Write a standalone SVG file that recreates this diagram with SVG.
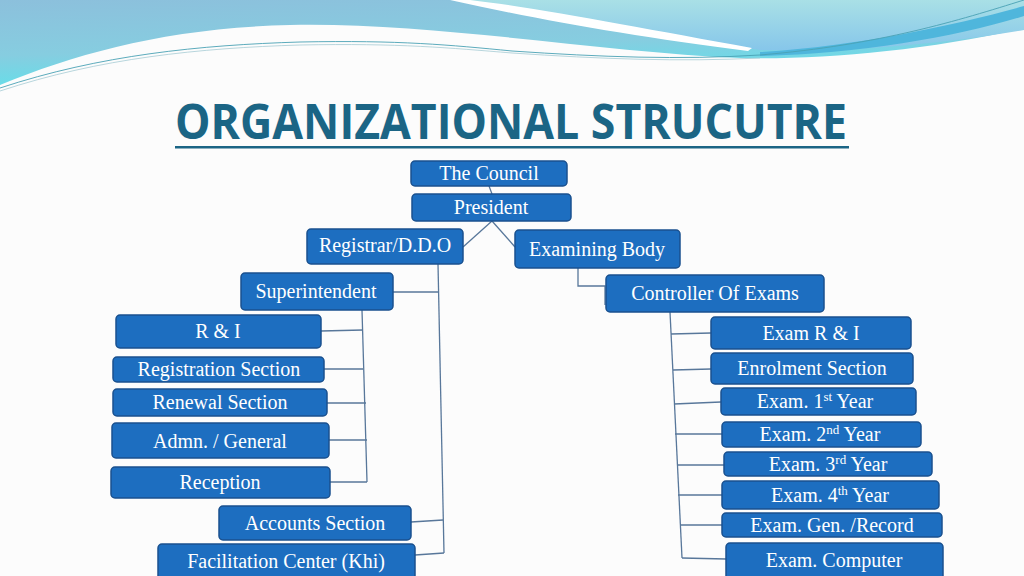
<svg xmlns="http://www.w3.org/2000/svg" width="1024" height="576" viewBox="0 0 1024 576">
<defs>
<linearGradient id="gBlue" x1="0" y1="0" x2="0.3" y2="1">
<stop offset="0" stop-color="#8cc0dc"/>
<stop offset="0.6" stop-color="#86cde0"/>
<stop offset="1" stop-color="#62e0ea"/>
</linearGradient>
<linearGradient id="gAqua" x1="0" y1="0" x2="0" y2="1">
<stop offset="0" stop-color="#a9e0e6"/>
<stop offset="1" stop-color="#86c6ea"/>
</linearGradient>
<style>
.box{fill:#1d6ec0;stroke:#1a508e;stroke-width:1.5}
.lbl{font-family:"Liberation Serif","Times New Roman",serif;font-size:20px;fill:#ffffff;text-anchor:middle}
.sup{font-size:13px}
.con{fill:none;stroke:#58779a;stroke-width:1.3}
</style>
</defs>
<rect x="0" y="0" width="1024" height="576" fill="#fcfcfc"/>
<g id="banner">
<path d="M0,0 H1024 V28 C930,50 820,60 740,58 C600,52 430,22 290,25 C170,28 80,52 0,85 Z" fill="url(#gBlue)"/>
<path d="M462,0 H1024 V30 C930,46 840,52 760,50 C690,40 600,22 520,8 C500,5 480,2 462,0 Z" fill="url(#gAqua)"/>
<path d="M450,0 L470,0 C540,8 640,28 752,48 L748,51 C630,36 540,20 450,0 Z" fill="#ffffff"/>
<path d="M760,52 C860,46 960,24 1024,6 V16 C960,36 860,54 760,56 Z" fill="#4fb6dc"/>
<path d="M0,88 C100,55 200,45 300,42 C400,40 450,45 512,51 C600,57 680,60 760,55 C880,45 960,20 1024,0" fill="none" stroke="#4aa2b4" stroke-width="0.9"/>
<path d="M0,91 C100,58 200,48 300,45 C400,43 450,48 512,53 C600,59 680,62 760,58" fill="none" stroke="#a6ccd4" stroke-width="0.8"/>
</g>
<g id="title">
<text x="511" y="139" font-family="Open Sans, Liberation Sans, sans-serif" font-weight="bold" font-size="48" fill="#1b6585" text-anchor="middle" textLength="672" lengthAdjust="spacingAndGlyphs">ORGANIZATIONAL STRUCUTRE</text>
<rect x="175" y="146" width="674" height="2.5" fill="#1b6585"/>
</g>
<g id="connectors">
<line class="con" x1="489" y1="186" x2="492" y2="194"/>
<line class="con" x1="492" y1="221" x2="463" y2="247"/>
<line class="con" x1="492" y1="221" x2="515" y2="247"/>
<polyline class="con" points="438,264 444,553"/>
<line class="con" x1="393" y1="292" x2="439" y2="292"/>
<line class="con" x1="411" y1="522" x2="443" y2="520"/>
<line class="con" x1="415" y1="555" x2="444" y2="553"/>
<polyline class="con" points="362,310 367,482"/>
<line class="con" x1="321" y1="331" x2="363" y2="330"/>
<line class="con" x1="324" y1="369" x2="363" y2="369"/>
<line class="con" x1="327" y1="403" x2="366" y2="403"/>
<line class="con" x1="329" y1="440" x2="367" y2="440"/>
<line class="con" x1="330" y1="482" x2="367" y2="482"/>
<polyline class="con" points="578,268 578,286 605,286 605,305"/>
<polyline class="con" points="670,312 682,558"/>
<line class="con" x1="671" y1="334" x2="711" y2="333"/>
<line class="con" x1="673" y1="370" x2="711" y2="369"/>
<line class="con" x1="674" y1="404" x2="721" y2="402"/>
<line class="con" x1="675" y1="434" x2="722" y2="434"/>
<line class="con" x1="677" y1="465" x2="724" y2="465"/>
<line class="con" x1="678" y1="495" x2="722" y2="495"/>
<line class="con" x1="680" y1="525" x2="722" y2="525"/>
<line class="con" x1="682" y1="558" x2="726" y2="559"/>
</g>
<g id="council"><rect class="box" x="411" y="161" width="156" height="25" rx="4"/><text class="lbl" x="489" y="180">The Council</text></g>
<g id="president"><rect class="box" x="412" y="194" width="159" height="27" rx="4"/><text class="lbl" x="491" y="214">President</text></g>
<g id="registrar"><rect class="box" x="307" y="229" width="156" height="35" rx="4"/><text class="lbl" x="385" y="252">Registrar/D.D.O</text></g>
<g id="examining"><rect class="box" x="515" y="230" width="165" height="38" rx="4"/><text class="lbl" x="597" y="256">Examining Body</text></g>
<g id="superintendent"><rect class="box" x="241" y="273" width="152" height="37" rx="4"/><text class="lbl" x="316" y="298">Superintendent</text></g>
<g id="ri"><rect class="box" x="116" y="315" width="205" height="33" rx="4"/><text class="lbl" x="218" y="338">R &amp; I</text></g>
<g id="registration"><rect class="box" x="113" y="357" width="211" height="25" rx="4"/><text class="lbl" x="219" y="376">Registration Section</text></g>
<g id="renewal"><rect class="box" x="113" y="389" width="214" height="27" rx="4"/><text class="lbl" x="220" y="409">Renewal Section</text></g>
<g id="admn"><rect class="box" x="112" y="423" width="217" height="35" rx="4"/><text class="lbl" x="220" y="448">Admn. / General</text></g>
<g id="reception"><rect class="box" x="111" y="467" width="219" height="31" rx="4"/><text class="lbl" x="220" y="489">Reception</text></g>
<g id="accounts"><rect class="box" x="219" y="506" width="192" height="34" rx="4"/><text class="lbl" x="315" y="530">Accounts Section</text></g>
<g id="facilitation"><rect class="box" x="158" y="544" width="257" height="38" rx="4"/><text class="lbl" x="286" y="568">Facilitation Center (Khi)</text></g>
<g id="controller"><rect class="box" x="606" y="275" width="218" height="37" rx="4"/><text class="lbl" x="715" y="300">Controller Of Exams</text></g>
<g id="examri"><rect class="box" x="711" y="317" width="200" height="32" rx="4"/><text class="lbl" x="811" y="340">Exam R &amp; I</text></g>
<g id="enrolment"><rect class="box" x="711" y="353" width="202" height="31" rx="4"/><text class="lbl" x="812" y="375">Enrolment Section</text></g>
<g id="year1"><rect class="box" x="721" y="388" width="195" height="27" rx="4"/><text class="lbl" x="815" y="408">Exam. 1<tspan class="sup" dy="-7">st</tspan><tspan dy="7"> Year</tspan></text></g>
<g id="year2"><rect class="box" x="722" y="422" width="199" height="25" rx="4"/><text class="lbl" x="820" y="441">Exam. 2<tspan class="sup" dy="-7">nd</tspan><tspan dy="7"> Year</tspan></text></g>
<g id="year3"><rect class="box" x="724" y="452" width="208" height="24" rx="4"/><text class="lbl" x="828" y="471">Exam. 3<tspan class="sup" dy="-7">rd</tspan><tspan dy="7"> Year</tspan></text></g>
<g id="year4"><rect class="box" x="722" y="481" width="217" height="28" rx="4"/><text class="lbl" x="830" y="502">Exam. 4<tspan class="sup" dy="-7">th</tspan><tspan dy="7"> Year</tspan></text></g>
<g id="genrecord"><rect class="box" x="722" y="513" width="220" height="24" rx="4"/><text class="lbl" x="832" y="532">Exam. Gen. /Record</text></g>
<g id="computer"><rect class="box" x="726" y="543" width="217" height="38" rx="4"/><text class="lbl" x="834" y="567">Exam. Computer</text></g>
</svg>
